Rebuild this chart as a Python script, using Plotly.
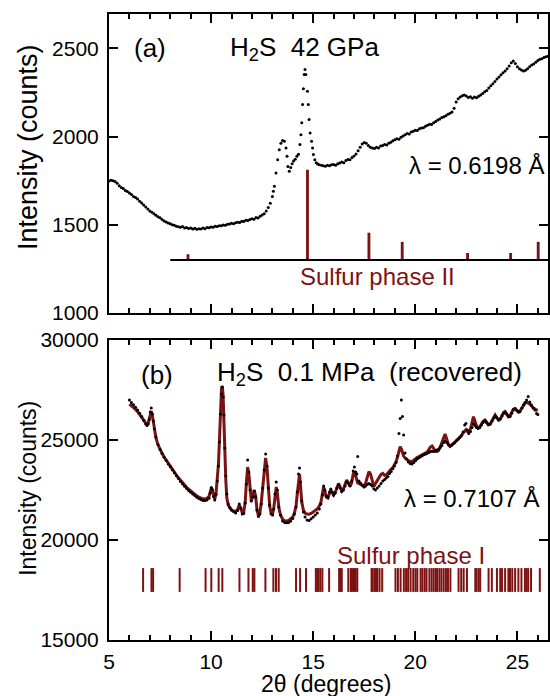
import plotly.graph_objects as go

RED = "#7d1212"
FONT = "Liberation Sans, Arial, Helvetica, sans-serif"

# ---------------- panel (a): H2S 42 GPa ----------------
a_x = [5.0, 5.1, 5.2, 5.3, 5.4, 5.5, 5.6, 5.7, 5.8, 5.9, 6.0, 6.1, 6.2, 6.3, 6.4, 6.5, 6.6, 6.7, 6.8, 6.9,
       7.0, 7.1, 7.2, 7.3, 7.4, 7.5, 7.6, 7.7, 7.8, 7.9, 8.0, 8.1, 8.2, 8.3, 8.4, 8.5, 8.6, 8.7, 8.8, 8.9,
       9.0, 9.1, 9.2, 9.3, 9.4, 9.5, 9.6, 9.7, 9.8, 9.9, 10.0, 10.1, 10.2, 10.3, 10.4, 10.5, 10.6, 10.7, 10.8, 10.9,
       11.0, 11.1, 11.2, 11.3, 11.4, 11.5, 11.6, 11.7, 11.8, 11.9, 12.0, 12.1, 12.2, 12.3, 12.4, 12.5, 12.6, 12.7, 12.8, 12.9,
       13.0, 13.05, 13.1, 13.18, 13.26, 13.34, 13.42, 13.5, 13.59, 13.67, 13.72, 13.76, 13.83, 13.9, 13.97, 14.04, 14.12, 14.2, 14.28, 14.35,
       14.4, 14.44, 14.48, 14.52, 14.56, 14.6, 14.64, 14.72, 14.76, 14.8, 14.85, 14.92, 14.97, 15.01, 15.08, 15.15, 15.22, 15.3, 15.4,
       15.5, 15.6, 15.7, 15.8, 15.9, 16.0, 16.1, 16.2, 16.3, 16.4, 16.5, 16.6, 16.7, 16.8, 16.9, 17.0, 17.1, 17.2, 17.3, 17.4,
       17.5, 17.6, 17.7, 17.8, 17.9, 18.0, 18.1, 18.2, 18.3, 18.4, 18.5, 18.6, 18.7, 18.8, 18.9, 19.0, 19.1, 19.2, 19.3, 19.4,
       19.5, 19.6, 19.7, 19.8, 19.9, 20.0, 20.1, 20.2, 20.3, 20.4, 20.5, 20.6, 20.7, 20.8, 20.9, 21.0, 21.1, 21.2, 21.3, 21.4,
       21.5, 21.6, 21.7, 21.8, 21.9, 22.0, 22.1, 22.2, 22.3, 22.4, 22.5, 22.6, 22.7, 22.8, 22.9, 23.0, 23.1, 23.2, 23.3, 23.4,
       23.5, 23.6, 23.7, 23.8, 23.9, 24.0, 24.1, 24.2, 24.3, 24.4, 24.5, 24.6, 24.7, 24.8, 24.9, 25.0, 25.1, 25.2, 25.3, 25.4,
       25.5, 25.6, 25.7, 25.8, 25.9, 26.0, 26.1, 26.2, 26.3, 26.4, 26.5]
a_obs = [1748, 1752, 1750, 1745, 1736, 1722, 1712, 1705, 1694, 1688, 1680, 1672, 1661, 1655, 1646, 1633, 1624, 1612, 1601, 1590,
         1578, 1571, 1562, 1554, 1545, 1540, 1530, 1522, 1516, 1510, 1506, 1500, 1497, 1492, 1489, 1486, 1490, 1482, 1484, 1479,
         1482, 1476, 1480, 1474, 1478, 1476, 1482, 1478, 1485, 1483, 1488, 1486, 1492, 1490, 1495, 1494, 1499, 1497, 1503, 1505,
         1508, 1506, 1512, 1515, 1513, 1520, 1518, 1526, 1524, 1530, 1534, 1532, 1541, 1539, 1548, 1555, 1562, 1578, 1598, 1622,
         1660, 1690, 1718, 1794, 1869, 1926, 1962, 1978, 1973, 1936, 1888, 1831, 1803, 1825, 1846, 1862, 1872, 1888, 1900, 1955,
         2011, 2078, 2182, 2271, 2352, 2381, 2352, 2257, 2182, 2097, 2021, 1973, 1936, 1898, 1869, 1852, 1845, 1841, 1838,
         1835, 1832, 1838, 1834, 1840, 1842, 1838, 1846, 1850, 1856, 1852, 1864, 1870, 1868, 1882, 1890, 1902, 1920, 1940, 1958,
         1966, 1962, 1950, 1940, 1936, 1932, 1940, 1936, 1946, 1950, 1955, 1952, 1962, 1968, 1976, 1982, 1988, 1985, 1996, 2004,
         2010, 2018, 2014, 2026, 2030, 2036, 2034, 2044, 2048, 2050, 2058, 2064, 2070, 2068, 2078, 2086, 2094, 2100, 2108, 2112,
         2118, 2126, 2132, 2140, 2160, 2196, 2215, 2224, 2232, 2236, 2230, 2222, 2226, 2218, 2224, 2220, 2228, 2236, 2244, 2254,
         2262, 2276, 2288, 2300, 2312, 2326, 2338, 2350, 2362, 2372, 2384, 2400, 2418, 2428, 2414, 2396, 2384, 2378, 2372, 2376,
         2384, 2396, 2406, 2412, 2422, 2432, 2438, 2442, 2448, 2452, 2456]

# Sulfur phase II reflections (position, top of stick) and reference baseline
a_ref_x = [8.87, 14.72, 17.73, 19.36, 22.56, 24.67, 26.02]
a_ref_top = [1333, 1812, 1455, 1403, 1340, 1340, 1403]
a_base_x = [8.0, 26.5]
a_base_y = 1300

# ---------------- panel (b): H2S 0.1 MPa (recovered) ----------------
b_x = [6.0, 6.1, 6.2, 6.3, 6.4, 6.5, 6.6, 6.7, 6.8, 6.86, 6.92, 6.97, 7.02, 7.07, 7.12, 7.17, 7.22, 7.3, 7.4, 7.5,
       7.6, 7.7, 7.8, 7.9, 8.0, 8.1, 8.2, 8.3, 8.4, 8.5, 8.6, 8.7, 8.8, 8.9, 9.0, 9.1, 9.2, 9.3, 9.4, 9.5,
       9.6, 9.7, 9.8, 9.9, 9.96, 10.01, 10.06, 10.12, 10.18, 10.24, 10.3, 10.36, 10.41, 10.46, 10.51, 10.55, 10.59, 10.63, 10.67, 10.72,
       10.77, 10.84, 10.92, 11.0, 11.1, 11.2, 11.3, 11.38, 11.45, 11.53, 11.6, 11.67, 11.73, 11.79, 11.85, 11.91, 11.97, 12.04, 12.11, 12.18,
       12.25, 12.32, 12.39, 12.46, 12.53, 12.6, 12.67, 12.74, 12.8, 12.87, 12.94, 13.01, 13.07, 13.13, 13.19, 13.25, 13.32, 13.4, 13.5, 13.6,
       13.7, 13.8, 13.9, 14.0, 14.08, 14.16, 14.22, 14.28, 14.33, 14.38, 14.44, 14.52, 14.6, 14.7, 14.8, 14.9, 15.0, 15.1, 15.2, 15.3,
       15.38, 15.45, 15.51, 15.57, 15.64, 15.72, 15.8, 15.86, 15.93, 16.0, 16.08, 16.16, 16.24, 16.32, 16.4, 16.48, 16.56, 16.64, 16.72, 16.8,
       16.88, 16.96, 17.02, 17.08, 17.14, 17.18, 17.24, 17.32, 17.4, 17.49, 17.57, 17.65, 17.73, 17.81, 17.89, 17.97, 18.05, 18.14, 18.23, 18.32,
       18.41, 18.5, 18.58, 18.66, 18.74, 18.82, 18.9, 18.98, 19.06, 19.13, 19.2, 19.26, 19.32, 19.37, 19.43, 19.5, 19.58, 19.66, 19.75, 19.84,
       19.93, 20.02, 20.1, 20.18, 20.26, 20.34, 20.42, 20.5, 20.58, 20.66, 20.74, 20.82, 20.9, 20.98, 21.06, 21.14, 21.22, 21.3, 21.38, 21.46,
       21.54, 21.62, 21.7, 21.78, 21.86, 21.94, 22.02, 22.1, 22.18, 22.26, 22.34, 22.42, 22.48, 22.55, 22.62, 22.7, 22.78, 22.85, 22.92, 23.0,
       23.08, 23.16, 23.24, 23.32, 23.42, 23.5, 23.58, 23.67, 23.76, 23.84, 23.91, 23.99, 24.08, 24.16, 24.25, 24.33, 24.4, 24.48, 24.56, 24.64,
       24.72, 24.8, 24.89, 24.98, 25.06, 25.13, 25.22, 25.3, 25.37, 25.45, 25.53, 25.61, 25.69, 25.77, 25.86, 25.94, 26.0]
b_fit = [26800, 26720, 26630, 26530, 26420, 26290, 26150, 25990, 25830, 25760, 25850, 26050, 26350, 26450, 26250, 25900, 25500, 25100, 24760, 24520,
         24330, 24150, 23990, 23830, 23690, 23540, 23390, 23250, 23110, 22980, 22860, 22750, 22640, 22540, 22450, 22360, 22280, 22210, 22150, 22100,
         22060, 22050, 22080, 22180, 22400, 22600, 22500, 22220, 22050, 22300, 22900, 23800, 25000, 26600, 27600, 27700, 27200, 25900, 24400, 23000,
         22100, 21750, 21600, 21500, 21450, 21420, 21520, 21750, 21600, 21350, 21400, 21900, 22900, 23650, 23300, 22400, 21950, 22200, 22500, 22200,
         21500, 21200, 21350, 21900, 22700, 23600, 24100, 23600, 22500, 21700, 21350, 21300, 21600, 22200, 22650, 22300, 21600, 21250, 21050, 20960,
         20950, 20980, 21050, 21150, 21350, 21700, 22300, 23100, 23300, 22700, 21900, 21500, 21350, 21300, 21290, 21330, 21400, 21460, 21550, 21700,
         21900, 22300, 22650, 22450, 22150, 22100, 22350, 22500, 22380, 22250, 22380, 22650, 22830, 22650, 22450, 22550, 22800, 23000, 22850, 22680,
         22850, 23300, 23420, 23200, 22950, 22850, 22830, 22780, 22700, 22680, 22850, 23150, 23420, 23300, 22900, 22680, 22820, 23000, 23150, 23280,
         23330, 23230, 23250, 23350, 23480, 23550, 23620, 23750, 23920, 24150, 24500, 24670, 24550, 24350, 24200, 24100, 24020, 23970, 23940, 23930,
         23990, 24080, 24140, 24170, 24220, 24260, 24300, 24330, 24400, 24520, 24650, 24700, 24560, 24460, 24420, 24480, 24650, 24880, 25150, 25300,
         25050, 24780, 24680, 24730, 24820, 24900, 24980, 25030, 25100, 25220, 25350, 25480, 25520, 25420, 25380, 25550, 25900, 26170, 25950, 25700,
         25600, 25660, 25800, 25930, 26000, 25860, 25760, 25800, 26000, 26180, 26250, 26120, 26000, 26050, 26250, 26380, 26420, 26280, 26160, 26200,
         26380, 26540, 26580, 26460, 26400, 26450, 26600, 26750, 26830, 26900, 26850, 26790, 26700, 26610, 26550, 26500, 26480]
b_obs = [27000, 26880, 26760, 26640, 26500, 26340, 26180, 25990, 25800, 25720, 25800, 26020, 26400, 26600, 26300, 25950, 25550, 25150, 24780, 24530,
         24320, 24140, 23970, 23800, 23660, 23510, 23360, 23210, 23070, 22930, 22800, 22690, 22580, 22480, 22390, 22300, 22220, 22140, 22080, 22020,
         21980, 21970, 22000, 22090, 22350, 22620, 22520, 22180, 22000, 22280, 22950, 23700, 24900, 26300, 27300, 27650, 27150, 26250, 24600, 23200,
         22300, 21800, 21620, 21500, 21420, 21350, 21480, 21800, 21600, 21300, 21330, 21850, 22800, 24000, 23400, 22500, 21950, 22150, 22450, 22150,
         21500, 21170, 21300, 21800, 22600, 23500, 24300, 23700, 22600, 21750, 21300, 21250, 21550, 22300, 22900, 22500, 21650, 21250, 20950, 20880,
         20860, 20880, 20950, 21080, 21300, 21650, 22400, 23300, 23600, 22900, 21950, 21400, 21150, 21000, 20980, 21060, 21150, 21250, 21350, 21550,
         21800, 22250, 22700, 22500, 22200, 22150, 22400, 22550, 22400, 22250, 22350, 22600, 22750, 22600, 22420, 22500, 22700, 22900, 22850, 22700,
         22950, 23450, 23650, 23400, 23300, 24170, 22950, 22850, 22750, 22650, 22700, 22780, 22830, 22780, 22700, 22560, 22500, 22600, 22700, 22820,
         22950, 23020, 23100, 23180, 23330, 23430, 23560, 23700, 23880, 24200, 25330, 26080, 27000, 26170, 25250, 24350, 24050, 23900, 23830, 23800,
         23880, 23980, 24060, 24110, 24160, 24210, 24260, 24300, 24340, 24380, 24420, 24440, 24420, 24450, 24500, 24540, 24620, 24730, 24860, 24950,
         24870, 24770, 24700, 24740, 24810, 24880, 24960, 25040, 25120, 25230, 25400, 25750, 25830, 25500, 25330, 25420, 25620, 25800, 25720, 25620,
         25580, 25630, 25750, 25880, 25950, 25860, 25790, 25800, 25950, 26100, 26200, 26120, 26000, 26050, 26200, 26340, 26400, 26300, 26200, 26180,
         26340, 26500, 26560, 26460, 26400, 26420, 26600, 26760, 26870, 27000, 27170, 26900, 26750, 26600, 26500, 26330, 26280]

# Sulfur phase I reflection positions
b_ref_x = [6.67, 7.08, 7.16, 8.46, 9.73, 10.01, 10.37, 10.55, 11.39, 11.83, 12.04, 12.12, 12.66,
           13.05, 13.18, 13.31, 14.16, 14.36, 14.65, 15.13, 15.2, 15.26, 15.35, 15.45, 15.78,
           16.27, 16.33, 16.4, 16.72, 16.84, 16.9, 17.0, 17.08, 17.16, 17.86, 17.92, 18.02, 18.08,
           18.14, 18.25, 18.38, 19.03, 19.15, 19.28, 19.44, 19.55, 19.65, 19.77, 19.9, 20.01, 20.1,
           20.26, 20.35, 20.46, 20.55, 20.69, 20.8, 20.9, 21.0, 21.07, 21.18, 21.28, 21.39, 21.5,
           21.6, 21.72, 22.12, 22.25, 22.37, 22.53, 22.94, 23.0, 23.1, 23.18, 23.59, 23.75, 24.0,
           24.16, 24.25, 24.4, 24.56, 24.64, 24.75, 24.89, 25.05, 25.2, 25.37, 25.45, 25.53, 25.67, 26.1]
b_ref_level = 18000

fig = go.Figure()

# panel (a)
fig.add_trace(go.Scatter(x=a_base_x, y=[a_base_y, a_base_y], mode="lines",
                         line=dict(color="black", width=2), xaxis="x", yaxis="y", hoverinfo="skip"))
fig.add_trace(go.Bar(x=a_ref_x, y=[t - a_base_y for t in a_ref_top], base=a_base_y, width=0.14,
                     marker=dict(color=RED, line_width=0), xaxis="x", yaxis="y"))
fig.add_trace(go.Scatter(x=a_x, y=a_obs, mode="markers",
                         marker=dict(size=3, color="black"), xaxis="x", yaxis="y"))

# panel (b)
fig.add_trace(go.Scatter(x=b_x, y=b_fit, mode="lines",
                         line=dict(color=RED, width=3), xaxis="x2", yaxis="y2"))
fig.add_trace(go.Scatter(x=b_x, y=b_obs, mode="markers",
                         marker=dict(size=3, color="black"), xaxis="x2", yaxis="y2"))
fig.add_trace(go.Scatter(x=b_ref_x, y=[b_ref_level] * len(b_ref_x), mode="markers",
                         marker=dict(symbol="line-ns", size=17, line=dict(color=RED, width=2)),
                         xaxis="x2", yaxis="y2"))

tickfont = dict(family=FONT, size=21, color="black")
common_x = dict(range=[5, 26.5], tick0=5, dtick=5, ticks="inside", ticklen=9, tickwidth=2,
                tickcolor="black", showline=True, linewidth=2, linecolor="black", mirror="allticks",
                showgrid=False, zeroline=False, tickfont=tickfont,
                minor=dict(dtick=1, ticks="inside", ticklen=5, tickwidth=1.5, tickcolor="black", showgrid=False))
common_y = dict(ticks="inside", ticklen=9, tickwidth=2, tickcolor="black", showline=True, linewidth=2,
                linecolor="black", mirror="allticks", showgrid=False, zeroline=False, tickfont=tickfont,
                ticklabelstandoff=4, tickformat="d")

TOP_LO, BOT_HI = 0.5224, 0.4792

fig.update_layout(
    width=550, height=696,
    margin=dict(l=109, r=0, t=14, b=56),
    paper_bgcolor="white", plot_bgcolor="white",
    showlegend=False,
    font=dict(family=FONT, color="black"),
    xaxis=dict(common_x, domain=[0, 1], anchor="y", showticklabels=False),
    yaxis=dict(common_y, domain=[TOP_LO, 1], anchor="x", range=[1000, 2695], tick0=1000, dtick=500),
    xaxis2=dict(common_x, domain=[0, 1], anchor="y2", showticklabels=True, ticklabelstandoff=2),
    yaxis2=dict(common_y, domain=[0, BOT_HI], anchor="x2", range=[15000, 30000], tick0=15000, dtick=5000),
)

ann = []
# panel (a) texts
ann.append(dict(text="(a)", x=7.0, y=2500, xref="x", yref="y", xanchor="center", yanchor="middle",
                showarrow=False, font=dict(size=26)))
ann.append(dict(text="H<sub>2</sub>S\u00a0\u00a042 GPa", x=10.85, y=2500, xref="x", yref="y",
                xanchor="left", yanchor="middle", showarrow=False, font=dict(size=26)))
ann.append(dict(text="\u03bb = 0.6198 \u00c5", x=26.42, y=1835, xref="x", yref="y",
                xanchor="right", yanchor="middle", showarrow=False, font=dict(size=24)))
ann.append(dict(text="Sulfur phase II", x=18.15, y=1205, xref="x", yref="y",
                xanchor="center", yanchor="middle", showarrow=False, font=dict(size=24, color=RED)))
# panel (b) texts
ann.append(dict(text="(b)", x=7.34, y=28250, xref="x2", yref="y2", xanchor="center", yanchor="middle",
                showarrow=False, font=dict(size=26)))
ann.append(dict(text="H<sub>2</sub>S\u00a0\u00a00.1 MPa\u00a0\u00a0(recovered)", x=10.17, y=28350,
                xref="x2", yref="y2", xanchor="left", yanchor="middle", showarrow=False, font=dict(size=26)))
ann.append(dict(text="\u03bb = 0.7107 \u00c5", x=26.17, y=22080, xref="x2", yref="y2",
                xanchor="right", yanchor="middle", showarrow=False, font=dict(size=24)))
ann.append(dict(text="Sulfur phase I", x=19.77, y=19250, xref="x2", yref="y2",
                xanchor="center", yanchor="middle", showarrow=False, font=dict(size=24, color=RED)))
# axis titles
ann.append(dict(text="Intensity (counts)", x=-0.186, y=0.788, xref="paper", yref="paper",
                xanchor="center", yanchor="middle", textangle=-90, showarrow=False, font=dict(size=27)))
ann.append(dict(text="Intensity (counts)", x=-0.186, y=0.242, xref="paper", yref="paper",
                xanchor="center", yanchor="middle", textangle=-90, showarrow=False, font=dict(size=23)))
ann.append(dict(text="2\u03b8 (degrees)", x=0.494, y=-0.0695, xref="paper", yref="paper",
                xanchor="center", yanchor="middle", showarrow=False, font=dict(size=23)))
fig.update_layout(annotations=ann)

fig.write_html("out.html", config={"displayModeBar": False},
               post_script="document.body.style.margin='0';document.body.style.overflow='hidden';")
